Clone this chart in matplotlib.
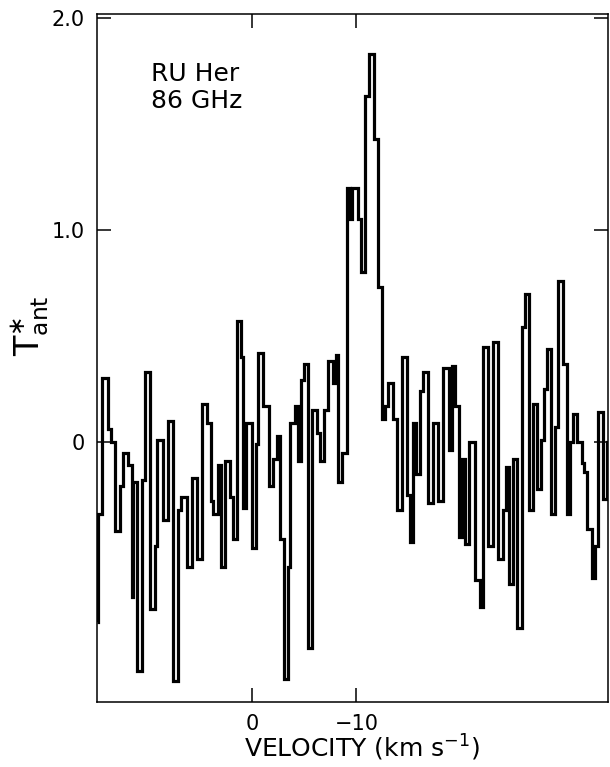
import matplotlib
matplotlib.use("Agg")
import matplotlib.pyplot as plt

# RU Her, 86 GHz spectrum: channel edges (km/s) and antenna temperature per channel
vel_edges = [
    14.95, 14.81, 14.50, 13.89, 13.61, 13.22, 12.74, 12.45, 11.94, 11.62,
    11.44, 11.15, 10.65, 10.34, 9.86, 9.38, 9.21, 8.58, 8.15, 7.64,
    7.19, 6.88, 6.33, 5.85, 5.37, 4.88, 4.40, 4.02, 3.77, 3.35,
    3.03, 2.64, 2.16, 1.90, 1.52, 1.11, 0.88, 0.63, 0.08, -0.34,
    -0.56, -1.04, -1.59, -2.00, -2.33, -2.64, -3.06, -3.44, -3.61, -4.09,
    -4.40, -4.66, -4.98, -5.31, -5.69, -6.17, -6.49, -6.90, -7.29, -7.77,
    -8.03, -8.25, -8.65, -9.06, -9.42, -9.62, -10.17, -10.43, -10.82, -11.20,
    -11.68, -12.10, -12.42, -12.74, -13.06, -13.54, -13.87, -14.35, -14.83, -15.14,
    -15.40, -15.72, -16.11, -16.42, -16.90, -17.33, -17.87, -18.29, -18.94, -19.15,
    -19.47, -19.88, -20.12, -20.43, -20.85, -21.39, -21.88, -22.19, -22.67, -23.10,
    -23.63, -24.06, -24.38, -24.69, -25.02, -25.46, -25.88, -26.20, -26.62, -27.00,
    -27.38, -27.71, -28.03, -28.29, -28.67, -29.09, -29.40, -29.88, -30.21, -30.53,
    -30.85, -31.23, -31.65, -31.88, -32.19, -32.62, -32.93, -33.25, -33.73, -34.06,
    -34.21,
]
t_ant = [
    -0.85, -0.34, 0.30, 0.06, 0.00, -0.42, -0.21, -0.05, -0.11, -0.73,
    -0.19, -1.08, -0.18, 0.33, -0.79, -0.49, 0.01, -0.37, 0.10, -1.13,
    -0.32, -0.26, -0.59, -0.17, -0.55, 0.18, 0.09, -0.28, -0.34, -0.11,
    -0.59, -0.09, -0.26, -0.46, 0.57, 0.40, -0.31, 0.09, -0.50, -0.01,
    0.42, 0.17, -0.21, -0.08, 0.03, -0.46, -1.12, -0.59, 0.09, 0.17,
    -0.09, 0.29, 0.37, -0.97, 0.15, 0.04, -0.09, 0.15, 0.38, 0.28,
    0.41, -0.19, -0.05, 1.20, 1.05, 1.20, 1.05, 0.80, 1.63, 1.83,
    1.43, 0.73, 0.11, 0.17, 0.28, 0.11, -0.32, 0.40, -0.25, -0.47,
    0.09, -0.15, 0.24, 0.33, -0.29, 0.09, -0.28, 0.35, -0.04, 0.36,
    0.17, -0.45, -0.08, -0.48, 0.00, -0.65, -0.78, 0.45, -0.49, 0.47,
    -0.55, -0.32, -0.12, -0.67, -0.08, -0.88, 0.54, 0.70, -0.32, 0.18,
    -0.22, 0.01, 0.25, 0.44, -0.34, 0.07, 0.76, 0.37, -0.34, 0.00,
    0.13, 0.00, -0.10, -0.14, -0.41, -0.64, -0.49, 0.14, -0.27, 0.00,
]

x_ticks = [0, -10]
x_ticklabels = ["0", "\u221210"]
y_ticks = [0, 1.0, 2.0]
y_ticklabels = ["0", "1.0", "2.0"]

plt.rcParams["font.family"] = "DejaVu Sans"
plt.rcParams["mathtext.fontset"] = "dejavusans"

fig = plt.figure(figsize=(6.10, 7.67), dpi=100)
ax = fig.add_axes([0.159, 0.085, 0.838, 0.897])

ax.stairs(t_ant, vel_edges, baseline=None, color="black", linewidth=2.3)

ax.set_xlim(14.95, -34.21)
ax.set_ylim(-1.226, 2.02)

ax.set_xticks(x_ticks)
ax.set_xticklabels(x_ticklabels)
ax.set_yticks(y_ticks)
ax.set_yticklabels(y_ticklabels)
ax.tick_params(direction="in", length=10, width=1.1, labelsize=15,
               top=True, right=True, pad=9)
for s in ax.spines.values():
    s.set_linewidth(1.1)

ax.text(0.105, 0.93, "RU Her\n86 GHz", transform=ax.transAxes,
        fontsize=18, va="top", ha="left", linespacing=1.15)

fig.text(0.593, 0.025, r"VELOCITY (km s$^{-1}$)", ha="center", va="center",
         fontsize=18)
fig.text(0.05, 0.575, r"$\mathrm{T}^{\ast}_{\mathrm{ant}}$", rotation=90,
         ha="center", va="center", fontsize=24)

fig.savefig("out.png", dpi=100)
